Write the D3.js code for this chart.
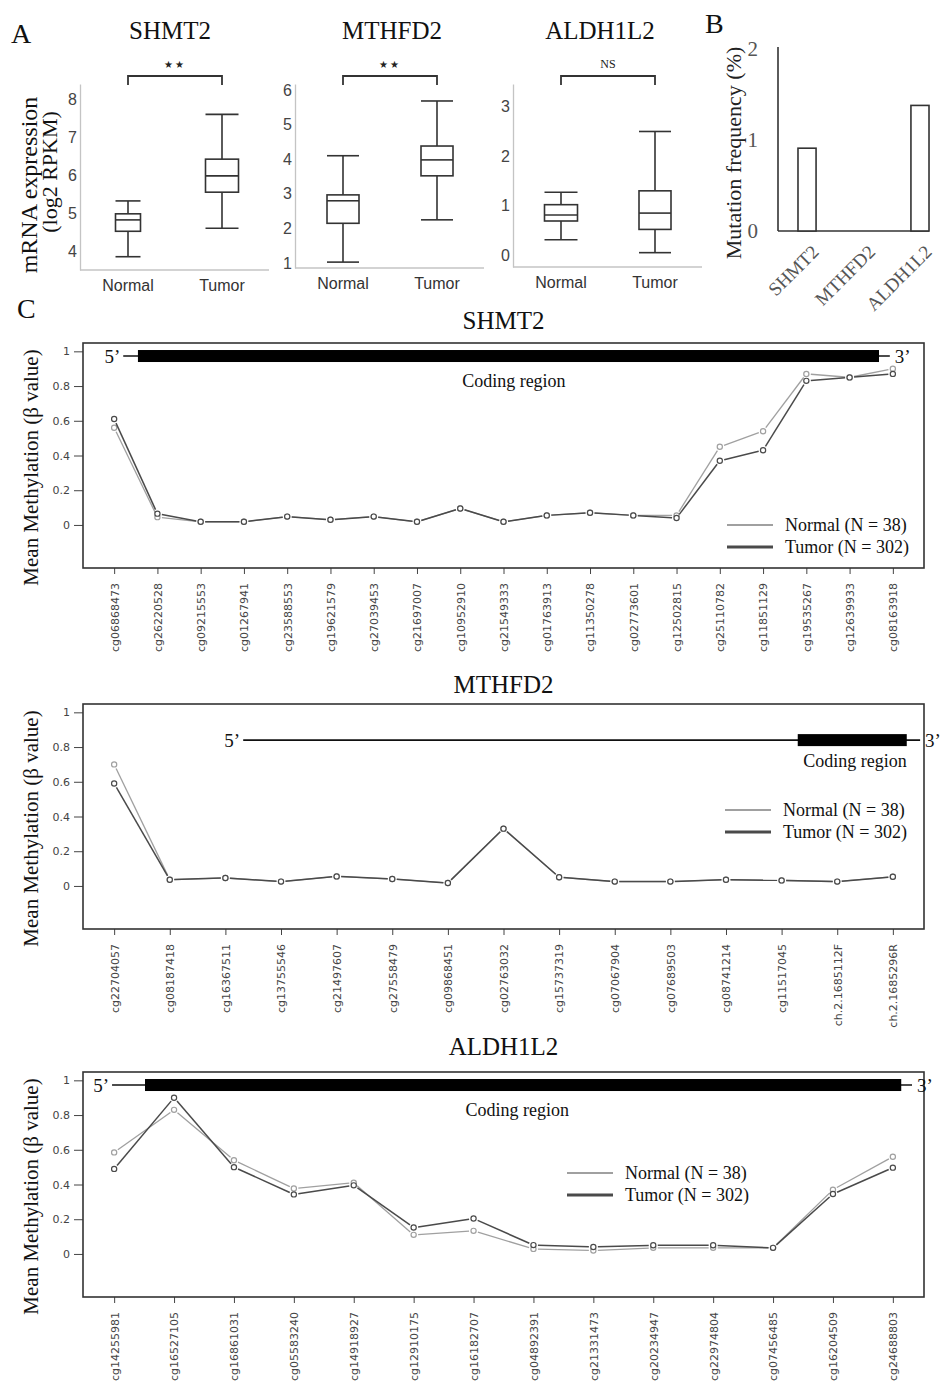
<!DOCTYPE html>
<html><head><meta charset="utf-8">
<script src="https://cdn.jsdelivr.net/npm/d3@7"></script>
<style>body{margin:0;background:#fff}</style>
</head><body><svg id="c" width="940" height="1383"></svg>
<script>
// ---------------- DATA ----------------
const boxGroups = ["Normal", "Tumor"];
// five-number summaries [min, q1, median, q3, max]
const shmt2Normal = [3.85, 4.52, 4.82, 4.98, 5.32];
const shmt2Tumor = [4.6, 5.55, 5.98, 6.42, 7.6];
const mthfd2Normal = [1.03, 2.15, 2.8, 2.97, 4.1];
const mthfd2Tumor = [2.25, 3.52, 3.98, 4.38, 5.68];
const aldh1l2Normal = [0.31, 0.69, 0.81, 1.02, 1.27];
const aldh1l2Tumor = [0.05, 0.52, 0.85, 1.3, 2.5];
const shmt2Ticks = [4, 5, 6, 7, 8];
const mthfd2Ticks = [1, 2, 3, 4, 5, 6];
const aldh1l2Ticks = [0, 1, 2, 3];
const boxSignif = ["★★", "★★", "NS"];

const mutGenes = ["SHMT2", "MTHFD2", "ALDH1L2"];
const mutFreq = [0.91, 0, 1.38];
const mutTicks = [0, 1, 2];

const methTicks = [0, 0.2, 0.4, 0.6, 0.8, 1];
const legendLabels = ["Normal (N = 38)", "Tumor (N = 302)"];

const shmt2Probes = ["cg06868473","cg26220528","cg09215553","cg01267941","cg23588553","cg19621579","cg27039453","cg21697007","cg10952910","cg21549333","cg01763913","cg11350278","cg02773601","cg12502815","cg25110782","cg11851129","cg19535267","cg12639933","cg08163918"];
const shmt2MethNormal = [0.56,0.045,0.018,0.018,0.048,0.03,0.048,0.018,0.095,0.018,0.055,0.07,0.055,0.055,0.45,0.54,0.87,0.85,0.90];
const shmt2MethTumor  = [0.61,0.065,0.018,0.018,0.048,0.03,0.048,0.018,0.095,0.018,0.055,0.07,0.055,0.04,0.37,0.43,0.83,0.85,0.87];

const mthfd2Probes = ["cg22704057","cg08187418","cg16367511","cg13755546","cg21497607","cg27558479","cg09868451","cg02763032","cg15737319","cg07067904","cg07689503","cg08741214","cg11517045","ch.2.1685112F","ch.2.1685296R"];
const mthfd2MethNormal = [0.70,0.036,0.046,0.025,0.055,0.04,0.017,0.33,0.05,0.025,0.025,0.036,0.032,0.025,0.053];
const mthfd2MethTumor  = [0.59,0.036,0.046,0.025,0.055,0.04,0.017,0.33,0.05,0.025,0.025,0.036,0.032,0.025,0.053];

const aldh1l2Probes = ["cg14255981","cg16527105","cg16861031","cg05583240","cg14918927","cg12910175","cg16182707","cg04892391","cg21331473","cg20234947","cg22974804","cg07456485","cg16204509","cg24688803"];
const aldh1l2MethNormal = [0.585,0.83,0.54,0.377,0.41,0.11,0.133,0.029,0.02,0.035,0.035,0.035,0.37,0.56];
const aldh1l2MethTumor  = [0.49,0.90,0.50,0.343,0.395,0.152,0.204,0.051,0.04,0.05,0.05,0.035,0.345,0.497];

// ---------------- DRAW ----------------
const serif = "'Liberation Serif','Times New Roman',serif";
const sans = "'DejaVu Sans',Verdana,sans-serif";
const lsans = "'Liberation Sans',Arial,sans-serif";
const svg = d3.select("#c");
const intFmt = d3.format("d");

function letter(t, x, y) {
  svg.append("text").attr("x", x).attr("y", y).text(t)
    .attr("font-family", serif).attr("font-size", 28).attr("fill", "#111");
}
letter("A", 11, 43);
letter("B", 705, 33);
letter("C", 17, 318);

// ----- Panel A: box plots -----
const boxCfg = [
  {gene: "SHMT2", data: [shmt2Normal, shmt2Tumor], ticks: shmt2Ticks, domain: [3.5, 8.4], axisX: 80, yBottom: 270, titleX: 170, widths: [25, 33], sig: boxSignif[0]},
  {gene: "MTHFD2", data: [mthfd2Normal, mthfd2Tumor], ticks: mthfd2Ticks, domain: [0.86, 6.17], axisX: 295, yBottom: 268, titleX: 392, widths: [32, 32], sig: boxSignif[1]},
  {gene: "ALDH1L2", data: [aldh1l2Normal, aldh1l2Tumor], ticks: aldh1l2Ticks, domain: [-0.24, 3.46], axisX: 513, yBottom: 267, titleX: 600, widths: [33, 32], sig: boxSignif[2]}
];

boxCfg.forEach(c => {
  const g = svg.append("g");
  const y = d3.scaleLinear().domain(c.domain).range([c.yBottom, 84]);
  const x = d3.scalePoint().domain(boxGroups).range([c.axisX + 48, c.axisX + 142]);
  const ax = g.append("g").attr("transform", `translate(${c.axisX},0)`)
    .call(d3.axisLeft(y).tickValues(c.ticks).tickFormat(intFmt).tickSize(0).tickPadding(3).tickSizeOuter(0));
  ax.select(".domain").attr("stroke", "#c4c4c4").attr("stroke-width", 1.3);
  ax.selectAll("text").attr("font-family", lsans).attr("font-size", 16).attr("fill", "#444");
  g.append("line").attr("x1", c.axisX).attr("x2", c.axisX + 189)
    .attr("y1", c.yBottom).attr("y2", c.yBottom).attr("stroke", "#c4c4c4").attr("stroke-width", 1.3);
  boxGroups.forEach((grp, i) => {
    const d = c.data[i], cx = x(grp), w = c.widths[i];
    const ln = (x1, y1, x2, y2) => g.append("line").attr("x1", x1).attr("y1", y1).attr("x2", x2).attr("y2", y2)
      .attr("stroke", "#333").attr("stroke-width", 1.6);
    ln(cx, y(d[0]), cx, y(d[1]));
    ln(cx, y(d[3]), cx, y(d[4]));
    ln(cx - w / 2, y(d[0]), cx + w / 2, y(d[0]));
    ln(cx - w / 2, y(d[4]), cx + w / 2, y(d[4]));
    g.append("rect").attr("x", cx - w / 2).attr("y", y(d[3])).attr("width", w).attr("height", y(d[1]) - y(d[3]))
      .attr("fill", "#fff").attr("stroke", "#333").attr("stroke-width", 1.6);
    ln(cx - w / 2, y(d[2]), cx + w / 2, y(d[2]));
    g.append("text").attr("x", cx).attr("y", c.yBottom + 21).attr("text-anchor", "middle")
      .attr("font-family", lsans).attr("font-size", 16).attr("fill", "#333").text(grp);
  });
  g.append("text").attr("x", c.titleX).attr("y", 39).attr("text-anchor", "middle")
    .attr("font-family", serif).attr("font-size", 25).attr("fill", "#111").text(c.gene);
  const x0 = x("Normal"), x1 = x("Tumor");
  g.append("path").attr("d", `M${x0},85V76H${x1}V85`).attr("fill", "none").attr("stroke", "#333").attr("stroke-width", 1.8);
  const st = g.append("text").attr("x", (x0 + x1) / 2).attr("y", 68).attr("text-anchor", "middle").attr("fill", "#222").text(c.sig);
  if (c.sig === "NS") st.attr("font-family", serif).attr("font-size", 12);
  else st.attr("font-family", sans).attr("font-size", 10).attr("letter-spacing", 2);
});

svg.append("text").attr("transform", "translate(37,185) rotate(-90)").attr("text-anchor", "middle")
  .attr("font-family", serif).attr("font-size", 24).attr("fill", "#111").text("mRNA expression");
svg.append("text").attr("transform", "translate(57,172) rotate(-90)").attr("text-anchor", "middle")
  .attr("font-family", serif).attr("font-size", 22).attr("fill", "#111").text("(log2 RPKM)");

// ----- Panel B: mutation frequency -----
{
  const g = svg.append("g");
  const y = d3.scaleLinear().domain([0, 2]).range([231, 49]);
  const x = d3.scaleBand().domain(mutGenes).range([778, 949]).paddingInner(0.68).paddingOuter(0.354);
  const ax = g.append("g").attr("transform", "translate(778,0)")
    .call(d3.axisLeft(y).tickValues(mutTicks).tickFormat(intFmt).tickSize(0).tickPadding(20).tickSizeOuter(0));
  ax.select(".domain").attr("stroke", "#333").attr("stroke-width", 1.6).attr("d", `M0,${y(0)}V${y(2) - 2}`);
  ax.selectAll("text").attr("font-family", serif).attr("font-size", 21).attr("fill", "#555");
  g.append("line").attr("x1", 778).attr("x2", x(mutGenes[mutGenes.length - 1]) + x.bandwidth())
    .attr("y1", y(0)).attr("y2", y(0)).attr("stroke", "#333").attr("stroke-width", 1.6);
  g.selectAll("rect.bar").data(mutGenes.map((k, i) => ({k, v: mutFreq[i]})).filter(d => d.v > 0))
    .join("rect").attr("x", d => x(d.k)).attr("y", d => y(d.v)).attr("width", x.bandwidth())
    .attr("height", d => y(0) - y(d.v)).attr("fill", "#fff").attr("stroke", "#333").attr("stroke-width", 1.6);
  mutGenes.forEach(k => {
    g.append("text").attr("transform", `translate(${x(k) + x.bandwidth() / 2 + 13},253) rotate(-45)`)
      .attr("text-anchor", "end").attr("font-family", serif).attr("font-size", 19).attr("fill", "#555").text(k);
  });
  g.append("text").attr("transform", "translate(741,153) rotate(-90)").attr("text-anchor", "middle")
    .attr("font-family", serif).attr("font-size", 22).attr("fill", "#222").text("Mutation frequency (%)");
}

// ----- Panel C: methylation -----
const frameL = 83, frameR = 924, frameH = 225;
const methCfg = [
  {gene: "SHMT2", probes: shmt2Probes, normal: shmt2MethNormal, tumor: shmt2MethTumor, top: 343, titleY: 329,
   gs: {y: 0.973, thin0: 0.21, thick0: 0.55, thick1: 17.68, thin1: 17.93},
   coding: {x: 9.24, y: 0.795, anchor: "middle"}, legend: {x: 727, dy: 182}},
  {gene: "MTHFD2", probes: mthfd2Probes, normal: mthfd2MethNormal, tumor: mthfd2MethTumor, top: 704, titleY: 693,
   gs: {y: 0.84, thin0: 2.32, thick0: 12.29, thick1: 14.25, thin1: 14.49},
   coding: {x: 14.25, y: 0.685, anchor: "end"}, legend: {x: 725, dy: 106}},
  {gene: "ALDH1L2", probes: aldh1l2Probes, normal: aldh1l2MethNormal, tumor: aldh1l2MethTumor, top: 1072, titleY: 1055,
   gs: {y: 0.973, thin0: -0.035, thick0: 0.515, thick1: 13.14, thin1: 13.32},
   coding: {x: 6.73, y: 0.794, anchor: "middle"}, legend: {x: 567, dy: 101}}
];
const seriesStyle = [
  {key: "normal", color: "#a0a0a0", lw: 1.3, legW: 2},
  {key: "tumor", color: "#4a4a4a", lw: 1.5, legW: 3}
];

methCfg.forEach(c => {
  const n = c.probes.length;
  const g = svg.append("g");
  const x = d3.scaleLinear().domain([-0.04 * (n - 1), (n - 1) * 1.04]).range([frameL, frameR]);
  const ylim = [-0.2, 1], ex = 0.04 * (ylim[1] - ylim[0]);
  const y = d3.scaleLinear().domain([ylim[0] - ex, ylim[1] + ex]).range([c.top + frameH, c.top]);

  g.append("text").attr("x", (frameL + frameR) / 2).attr("y", c.titleY).attr("text-anchor", "middle")
    .attr("font-family", serif).attr("font-size", 25).attr("fill", "#111").text(c.gene);

  const ay = g.append("g").attr("transform", `translate(${frameL},0)`)
    .call(d3.axisLeft(y).tickValues(methTicks).tickSize(9).tickPadding(4)
      .tickFormat(d => (d === 0 || d === 1) ? String(d) : d.toFixed(1)));
  ay.select(".domain").remove();
  ay.selectAll("line").attr("stroke", "#444");
  ay.selectAll("text").attr("font-family", sans).attr("font-size", 11).attr("fill", "#444");

  const axb = g.append("g").attr("transform", `translate(0,${c.top + frameH})`)
    .call(d3.axisBottom(x).tickValues(d3.range(n)).tickSize(6).tickFormat(i => c.probes[i]));
  axb.select(".domain").remove();
  axb.selectAll("line").attr("stroke", "#444");
  axb.selectAll("text").attr("transform", "rotate(-90)").attr("text-anchor", "end")
    .attr("x", -15).attr("y", 0).attr("dy", "0.35em")
    .attr("font-family", sans).attr("font-size", 11).attr("fill", "#444");

  g.append("rect").attr("x", frameL).attr("y", c.top).attr("width", frameR - frameL).attr("height", frameH)
    .attr("fill", "none").attr("stroke", "#333").attr("stroke-width", 1.6);

  const gy = y(c.gs.y);
  g.append("line").attr("x1", x(c.gs.thin0)).attr("x2", x(c.gs.thin1)).attr("y1", gy).attr("y2", gy)
    .attr("stroke", "#111").attr("stroke-width", 1.6);
  g.append("rect").attr("x", x(c.gs.thick0)).attr("y", gy - 6).attr("width", x(c.gs.thick1) - x(c.gs.thick0)).attr("height", 12)
    .attr("fill", "#000");
  g.append("text").attr("x", x(c.gs.thin0) - 3).attr("y", gy + 7).attr("text-anchor", "end")
    .attr("font-family", serif).attr("font-size", 19).attr("fill", "#111").text("5’");
  g.append("text").attr("x", x(c.gs.thin1) + 5).attr("y", gy + 7)
    .attr("font-family", serif).attr("font-size", 19).attr("fill", "#111").text("3’");
  g.append("text").attr("x", x(c.coding.x)).attr("y", y(c.coding.y)).attr("text-anchor", c.coding.anchor)
    .attr("font-family", serif).attr("font-size", 18).attr("fill", "#111").text("Coding region");

  seriesStyle.forEach(s => {
    const vals = c[s.key];
    const pts = vals.map((v, i) => [x(i), y(v)]);
    const gap = 4.5;
    for (let i = 0; i < pts.length - 1; i++) {
      const [x1, y1] = pts[i], [x2, y2] = pts[i + 1];
      const dx = x2 - x1, dy = y2 - y1, L = Math.hypot(dx, dy);
      if (L <= 2 * gap) continue;
      const ux = dx / L, uy = dy / L;
      g.append("line").attr("x1", x1 + ux * gap).attr("y1", y1 + uy * gap)
        .attr("x2", x2 - ux * gap).attr("y2", y2 - uy * gap)
        .attr("stroke", s.color).attr("stroke-width", s.lw);
    }
    g.selectAll(null).data(pts).join("circle").attr("cx", d => d[0]).attr("cy", d => d[1]).attr("r", 2.6)
      .attr("fill", "#fff").attr("stroke", s.color).attr("stroke-width", 1.2);
  });

  seriesStyle.forEach((s, i) => {
    const ly = c.top + c.legend.dy + i * 22;
    g.append("line").attr("x1", c.legend.x).attr("x2", c.legend.x + 46).attr("y1", ly).attr("y2", ly)
      .attr("stroke", s.color).attr("stroke-width", s.legW);
    g.append("text").attr("x", c.legend.x + 58).attr("y", ly + 6)
      .attr("font-family", serif).attr("font-size", 18).attr("fill", "#111").text(legendLabels[i]);
  });

  svg.append("text").attr("transform", `translate(38,${c.top + frameH / 2 + 12}) rotate(-90)`).attr("text-anchor", "middle")
    .attr("font-family", serif).attr("font-size", 21).attr("fill", "#111").text("Mean Methylation (β value)");
});
</script></body></html>
